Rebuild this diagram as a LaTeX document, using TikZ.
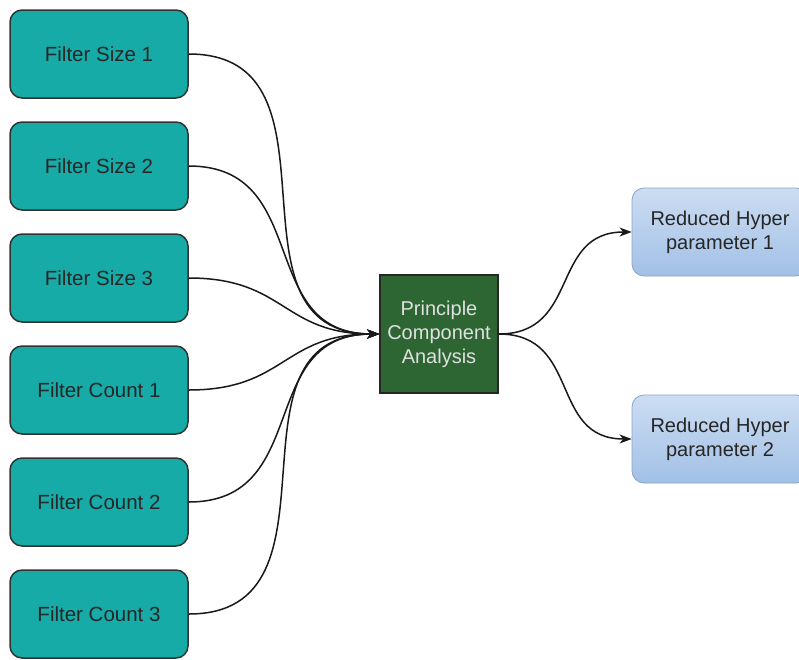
\documentclass[tikz,border=0pt]{standalone}
\usepackage{fontspec}
\setmainfont{Liberation Sans}
\usetikzlibrary{arrows.meta, shapes}

\begin{document}
\begin{tikzpicture}[x=1pt, y=-1pt,
	inbox/.style={draw=black!80, line width=1.5pt, fill=inteal, rounded corners=12pt, text=black!85,
		minimum width=178pt, minimum height=88pt, font=\fontsize{20.5}{24}\selectfont},
	pcabox/.style={draw=black!85, line width=1.5pt, fill=pcagreen, text=black!12,
		minimum width=118pt, minimum height=118pt, align=center, font=\fontsize{20}{24}\selectfont},
	outbox/.style={draw=outblue!85!black, line width=0.8pt, top color=outtop, bottom color=outblue,
		rounded corners=12pt, minimum width=176pt, minimum height=88pt, align=center, text=black!85,
		font=\fontsize{20}{24}\selectfont},
	link/.style={-{Stealth[length=12pt,width=9pt,inset=3.5pt]}, line width=1.5pt, black!90,
		out=0, in=180, looseness=1.25}
	]
	\definecolor{inteal}{HTML}{17ABA8}
	\definecolor{pcagreen}{HTML}{2D6633}
	\definecolor{outtop}{HTML}{CCDDF2}
	\definecolor{outblue}{HTML}{A2C0E6}
	\useasboundingbox (0,0) rectangle (799,659);
	% input hyper parameters
	\node[inbox] (size1) at (99,54) {Filter Size 1};
	\node[inbox] (size2) at (99,166) {Filter Size 2};
	\node[inbox] (size3) at (99,278) {Filter Size 3};
	\node[inbox] (count1) at (99,390) {Filter Count 1};
	\node[inbox] (count2) at (99,502) {Filter Count 2};
	\node[inbox] (count3) at (99,614) {Filter Count 3};
	% reduction
	\node[pcabox] (pca) at (439,334) {Principle\\Component\\Analysis};
	% outputs
	\node[outbox] (red1) at (720,232) {Reduced Hyper\\parameter 1};
	\node[outbox] (red2) at (720,439) {Reduced Hyper\\parameter 2};
	\foreach \src in {size1, size2, size3, count1, count2, count3}
		\draw[link] (\src.east) to (pca.west);
	\draw[link] (pca.east) to (red1.west);
	\draw[link] (pca.east) to (red2.west);
\end{tikzpicture}
\end{document}
